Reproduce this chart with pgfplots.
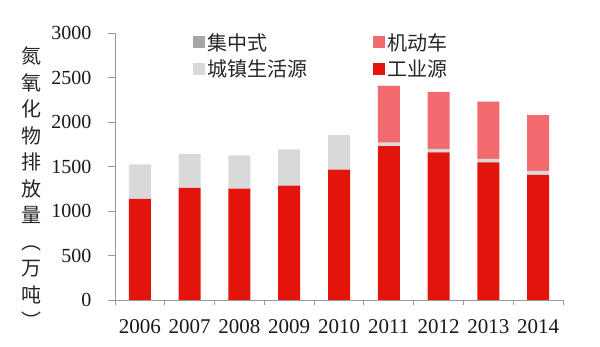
\documentclass[border=0pt]{standalone}
\usepackage{pgfplots}
\pgfplotsset{compat=1.18}
\usepackage{fontspec}
\setmainfont{Liberation Serif}
\newfontfamily\cjk{Noto Sans CJK SC}
\definecolor{cind}{HTML}{E3140C}
\definecolor{cveh}{HTML}{F26A6E}
\definecolor{cliv}{HTML}{D9D9D9}
\definecolor{ccen}{HTML}{A6A6A6}
\definecolor{caxis}{HTML}{9A9A9A}
\begin{document}
\begin{tikzpicture}
\useasboundingbox (0pt,0pt) rectangle (600pt,347pt);
\begin{axis}[
  at={(115pt,47pt)}, anchor=south west,
  scale only axis, width=448pt, height=267pt,
  ybar stacked, bar width=22pt,
  xmin=-0.5, xmax=8.5, ymin=0, ymax=3000,
  ytick={0,500,...,3000},
  xtick={0,...,8},
  xticklabels={2006,2007,2008,2009,2010,2011,2012,2013,2014},
  minor xtick={-0.5,0.5,...,8.5},
  major x tick style={draw=none},
  axis x line*=bottom, axis y line*=left,
  axis line style={caxis, line width=0.9pt},
  tick style={caxis, line width=0.9pt},
  tick align=outside,
  major tick length=7pt, minor tick length=5pt,
  xticklabel style={font=\fontsize{21}{21}\selectfont, yshift=-9pt, text=black!90},
  yticklabel style={font=\fontsize{20}{20}\selectfont, xshift=-13pt, text=black!90},
  /pgf/number format/assume math mode=true,
  scaled y ticks=false,
  yticklabel={\pgfmathprintnumber[fixed,1000 sep={}]{\tick}},
  reverse legend,
  legend columns=2,
  legend cell align=left,
  legend style={draw=none, fill=none, at={(0.168,1.015)}, anchor=north west,
    font=\cjk\fontsize{20}{20}\selectfont, text=black!85,
    row sep=4pt,
    /tikz/every even column/.append style={column sep=64pt}},
  legend image code/.code={\fill[#1] (0pt,-6pt) rectangle (12pt,6pt);},
]
\addplot[fill=cind, draw=none] coordinates {(0,1136) (1,1261) (2,1250) (3,1285) (4,1466) (5,1730) (6,1658) (7,1546) (8,1405)};
\addplot[fill=cliv, draw=none] coordinates {(0,388) (1,382) (2,374) (3,408) (4,387) (5,37) (6,39) (7,41) (8,45)};
\addplot[fill=cveh, draw=none] coordinates {(0,0) (1,0) (2,0) (3,0) (4,0) (5,638) (6,640) (7,641) (8,628)};
\addplot[fill=ccen, draw=none] coordinates {(0,0) (1,0) (2,0) (3,0) (4,0) (5,0.3) (6,0.3) (7,0.3) (8,0.3)};
\legend{工业源,城镇生活源,机动车,集中式}
\end{axis}
\node[align=center, font=\cjk\fontsize{20}{26.5}\selectfont, text=black!85] at (31pt,159pt)
  {氮\\氧\\化\\物\\排\\放\\量\\︵\\万\\吨\\︶};
\end{tikzpicture}
\end{document}
